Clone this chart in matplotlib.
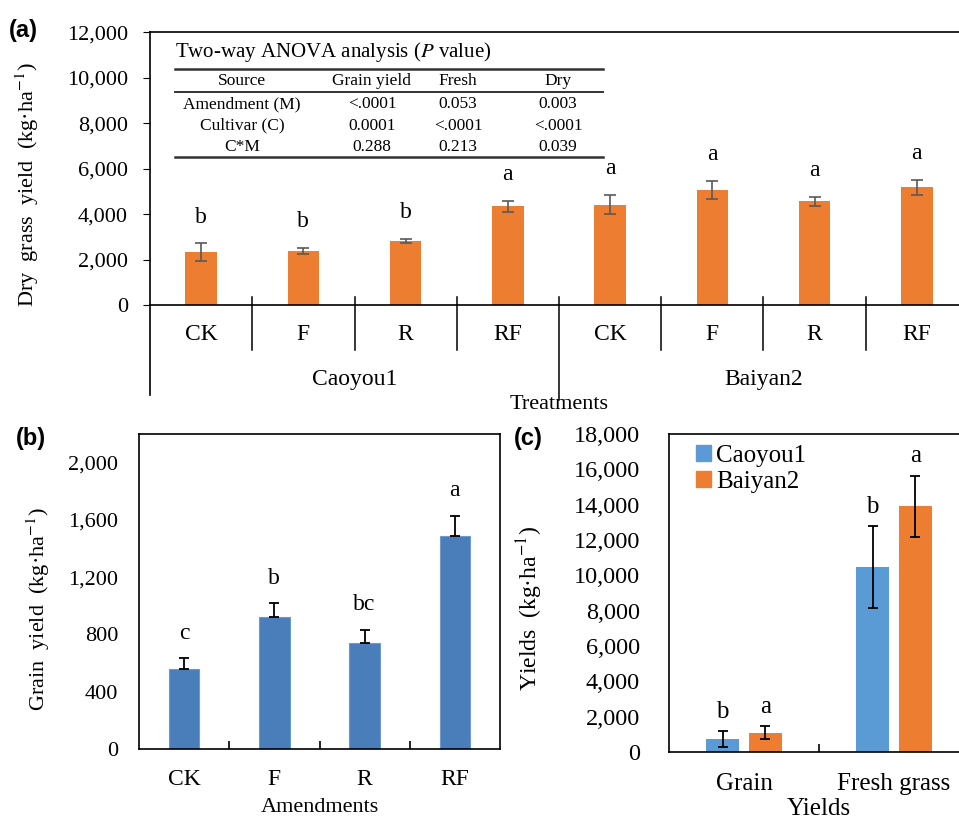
import matplotlib

matplotlib.use("Agg")
import matplotlib.pyplot as plt
from matplotlib.lines import Line2D
from matplotlib.patches import Patch
from matplotlib.ticker import FuncFormatter, FixedLocator, MultipleLocator

plt.rcParams["font.family"] = ["Liberation Serif", "DejaVu Serif"]
plt.rcParams["mathtext.fontset"] = "stix"

# (a) dry grass yield by cultivar x amendment
treatments = ["CK", "F", "R", "RF", "CK", "F", "R", "RF"]
cultivars = ["Caoyou1", "Baiyan2"]
dry_yield = [2320, 2390, 2815, 4340, 4410, 5060, 4560, 5180]
dry_err = [390, 125, 100, 255, 425, 390, 190, 325]
dry_letters = ["b", "b", "b", "a", "a", "a", "a", "a"]

# (b) grain yield by amendment
amendments = ["CK", "F", "R", "RF"]
grain_yield = [557, 922, 743, 1487]
grain_err = [77, 97, 91, 142]
grain_letters = ["c", "b", "bc", "a"]

# (c) yields by cultivar
yield_types = ["Grain", "Fresh grass"]
caoyou_yield = [740, 10470]
caoyou_err = [440, 2310]
caoyou_letters = ["b", "b"]
baiyan_yield = [1095, 13900]
baiyan_err = [355, 1750]
baiyan_letters = ["a", "a"]

# ANOVA table
anova_header = ["Source", "Grain yield", "Fresh", "Dry"]
anova_source = ["Amendment (M)", "Cultivar (C)", "C*M"]
anova_grain = ["<.0001", "0.0001", "0.288"]
anova_fresh = ["0.053", "<.0001", "0.213"]
anova_dry = ["0.003", "<.0001", "0.039"]

ORANGE = "#ED7D31"
BLUE_B = "#4A7EBB"
BLUE_C = "#5B9BD5"
W, H = 959, 822


def fx(px):
    return px / W


def fy(py):
    return 1 - py / H


def thousands(v, _):
    return "{:,.0f}".format(v)


fig = plt.figure(figsize=(W / 100, H / 100), dpi=100)

# ---------- panel (a) ----------
ax_a = fig.add_axes([fx(150), fy(305), (968 - 150) / W, (305 - 32.3) / H])
xa = list(range(len(treatments)))
ax_a.bar(xa, dry_yield, width=0.31, color=ORANGE, zorder=2)
ax_a.errorbar(xa, dry_yield, yerr=dry_err, fmt="none", ecolor="#595959",
              elinewidth=1.2, capsize=4.3, capthick=1.2, zorder=3)
for x, v, e, s in zip(xa, dry_yield, dry_err, dry_letters):
    ax_a.annotate(s, (x, v + e), xytext=(0, 19), textcoords="offset points",
                  ha="center", va="center", fontsize=17)
ax_a.set_xlim(-0.5, len(treatments) - 0.5)
ax_a.set_ylim(0, 12000)
ax_a.yaxis.set_major_locator(MultipleLocator(2000))
ax_a.yaxis.set_major_formatter(FuncFormatter(thousands))
ax_a.set_xticks([])
ax_a.tick_params(axis="y", direction="out", length=5, labelsize=16, pad=11)
for sp in ax_a.spines.values():
    sp.set_linewidth(1.2)

tr = ax_a.get_xaxis_transform()
for b in [0.5, 1.5, 2.5, 4.5, 5.5, 6.5]:
    ax_a.plot([b, b], [0.029, -0.165], transform=tr, color="black", lw=1.1, clip_on=False)
ax_a.plot([3.5, 3.5], [0.029, -0.348], transform=tr, color="black", lw=1.1, clip_on=False)
ax_a.plot([-0.5, -0.5], [0, -0.33], transform=tr, color="black", lw=1.2, clip_on=False)
for x, s in zip(xa, treatments):
    ax_a.text(x, -0.11, s, transform=tr, ha="center", va="center", fontsize=17)
for i, s in enumerate(cultivars):
    ax_a.text(1.5 + 4 * i, -0.275, s, transform=tr, ha="center", va="center", fontsize=17)
ax_a.text(3.5, -0.365, "Treatments", transform=tr, ha="center", va="center", fontsize=16)

fig.text(fx(27), fy(185), "Dry  grass  yield  (kg·ha$^{-1}$)", rotation=90,
         ha="center", va="center", fontsize=16)
fig.text(fx(9), fy(31), "(a)", family="Liberation Sans", weight="bold",
         ha="left", va="center", fontsize=17)

# ANOVA table inside (a)
fig.text(fx(175), fy(52), "Two-way ANOVA analysis ($\\mathit{P}$ value)",
         ha="left", va="center", fontsize=15)
for py, lw in [(69, 1.8), (92, 1.4), (157, 1.8)]:
    fig.add_artist(Line2D([fx(175), fx(603)], [fy(py), fy(py)], color="#333333", lw=lw))
col_x = [242, 372, 458, 558]
for cx, s in zip(col_x, anova_header):
    fig.text(fx(cx), fy(81), s, ha="center", va="center", fontsize=12.5)
for r, row in enumerate(zip(anova_source, anova_grain, anova_fresh, anova_dry)):
    for cx, s in zip(col_x, row):
        fig.text(fx(cx), fy(104 + 21.5 * r), s, ha="center", va="center", fontsize=12.5)

# ---------- panel (b) ----------
ax_b = fig.add_axes([fx(139), fy(749), (500 - 139) / W, (749 - 434) / H])
xb = list(range(len(amendments)))
ax_b.bar(xb, grain_yield, width=0.34, color=BLUE_B, edgecolor="#6E99CC", lw=0.8, zorder=2)
ax_b.errorbar(xb, grain_yield, yerr=[[0] * len(grain_err), grain_err], fmt="none",
              ecolor="black", elinewidth=1.3, capsize=3.8, capthick=1.3, zorder=3)
for x, v, e, s in zip(xb, grain_yield, grain_err, grain_letters):
    ax_b.annotate(s, (x, v + e), xytext=(0, 18), textcoords="offset points",
                  ha="center", va="center", fontsize=17)
ax_b.set_xlim(-0.5, len(amendments) - 0.5)
ax_b.set_ylim(0, 2200)
ax_b.yaxis.set_major_locator(FixedLocator([0, 400, 800, 1200, 1600, 2000]))
ax_b.yaxis.set_major_formatter(FuncFormatter(thousands))
ax_b.set_xticks(xb)
ax_b.set_xticklabels(amendments)
ax_b.xaxis.set_minor_locator(FixedLocator([0.5, 1.5, 2.5]))
ax_b.tick_params(axis="x", which="major", length=0, labelsize=17, pad=14.5)
ax_b.tick_params(axis="x", which="minor", direction="in", length=6, width=1.2)
ax_b.tick_params(axis="y", length=0, labelsize=16, pad=15)
ax_b.set_xlabel("Amendments", fontsize=16, labelpad=6)
for sp in ax_b.spines.values():
    sp.set_linewidth(1.2)
fig.text(fx(38), fy(609), "Grain  yield  (kg·ha$^{-1}$)", rotation=90,
         ha="center", va="center", fontsize=16)
fig.text(fx(16), fy(439), "(b)", family="Liberation Sans", weight="bold",
         ha="left", va="center", fontsize=17)

# ---------- panel (c) ----------
ax_c = fig.add_axes([fx(669), fy(752), (969 - 669) / W, (752 - 434) / H])
xc = list(range(len(yield_types)))
off = 0.143
xc1 = [x - off for x in xc]
xc2 = [x + off for x in xc]
ax_c.bar(xc1, caoyou_yield, width=0.22, color=BLUE_C, zorder=2)
ax_c.bar(xc2, baiyan_yield, width=0.22, color=ORANGE, zorder=2)
ax_c.errorbar(xc1, caoyou_yield, yerr=caoyou_err, fmt="none", ecolor="black",
              elinewidth=1.3, capsize=3.8, capthick=1.3, zorder=3)
ax_c.errorbar(xc2, baiyan_yield, yerr=baiyan_err, fmt="none", ecolor="black",
              elinewidth=1.3, capsize=3.8, capthick=1.3, zorder=3)
for xs, vals, errs, lets in [(xc1, caoyou_yield, caoyou_err, caoyou_letters),
                             (xc2, baiyan_yield, baiyan_err, baiyan_letters)]:
    for x, v, e, s in zip(xs, vals, errs, lets):
        ax_c.annotate(s, (x, v + e), xytext=(0, 14), textcoords="offset points",
                      ha="center", va="center", fontsize=18)
ax_c.set_xlim(-0.5, len(yield_types) - 0.5)
ax_c.set_ylim(0, 18000)
ax_c.yaxis.set_major_locator(MultipleLocator(2000))
ax_c.yaxis.set_major_formatter(FuncFormatter(thousands))
ax_c.set_xticks(xc)
ax_c.set_xticklabels(yield_types)
ax_c.xaxis.set_minor_locator(FixedLocator([0.5]))
ax_c.tick_params(axis="x", which="major", length=0, labelsize=18, pad=15)
ax_c.tick_params(axis="x", which="minor", direction="in", length=6, width=1.2)
ax_c.tick_params(axis="y", length=0, labelsize=17.5, pad=21)
ax_c.set_xlabel("Yields", fontsize=18, labelpad=2)
for sp in ax_c.spines.values():
    sp.set_linewidth(1.2)
handles = [Patch(color=BLUE_C, label=cultivars[0]), Patch(color=ORANGE, label=cultivars[1])]
ax_c.legend(handles=handles, loc="upper left", bbox_to_anchor=(0.09, 0.965),
            frameon=False, fontsize=18, handlelength=0.6, handleheight=0.6,
            handletextpad=0.2, labelspacing=0.15, borderpad=0, borderaxespad=0)
fig.text(fx(530), fy(608), "Yields  (kg·ha$^{-1}$)", rotation=90,
         ha="center", va="center", fontsize=17)
fig.text(fx(514), fy(439), "(c)", family="Liberation Sans", weight="bold",
         ha="left", va="center", fontsize=17)

fig.savefig("out.png", dpi=100)
